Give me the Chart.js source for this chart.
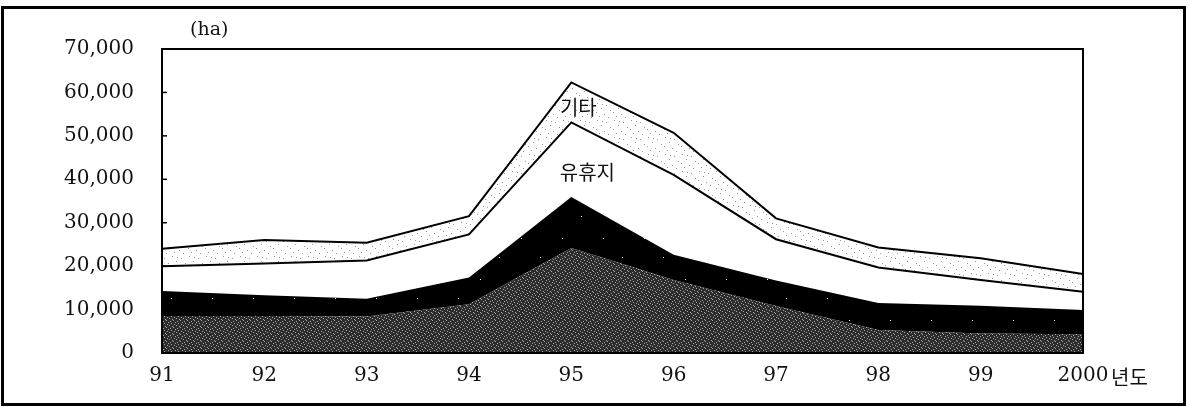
<!DOCTYPE html>
<html>
<head>
<meta charset="utf-8">
<script src="https://cdn.jsdelivr.net/npm/chart.js@4/dist/chart.umd.min.js"></script>
<style>
  html, body { margin: 0; padding: 0; background: #fff; }
  #wrap { position: absolute; left: 0; top: 0; width: 1189px; height: 407px; }
</style>
</head>
<body>
<div id="wrap"><canvas id="c" width="1189" height="407"></canvas></div>
<script>
// ---- data (band thickness per year, ha) ----
const years = ['91', '92', '93', '94', '95', '96', '97', '98', '99', '2000'];
const bottomBand = [8500, 8500, 8400, 11200, 24200, 16800, 10800, 5300, 4500, 4300];
const blackBand  = [5800, 4800, 4100, 6200, 11700, 5800, 5900, 6200, 6400, 5600];
const idleLand   = [5700, 7300, 8800, 9900, 17200, 18400, 9500, 8200, 5900, 4200];  // 유휴지
const otherLand  = [4000, 5400, 4100, 4200, 9200, 9700, 4800, 4600, 5000, 4100];    // 기타
const yTicks = [0, 10000, 20000, 30000, 40000, 50000, 60000, 70000];
const unitLabel = '(ha)';
const xSuffix = '년도';
const bandNames = ['', '', '유휴지', '기타'];

// ---- texture patterns (styling only) ----
function makePattern(bg, dot, size, spots) {
  const cv = document.createElement('canvas');
  cv.width = size; cv.height = size;
  const g = cv.getContext('2d');
  g.fillStyle = bg; g.fillRect(0, 0, size, size);
  g.fillStyle = dot;
  spots.forEach(([x, y]) => g.fillRect(x, y, 1, 1));
  return g.createPattern(cv, 'repeat');
}
const ctx = document.getElementById('c').getContext('2d');
const grayFill = makePattern('#2c2c2c', '#a8a8a8', 7,
  [[0,0],[3,1],[6,2],[1,3],[4,4],[2,6],[5,5]]);
const blackFill = makePattern('#000000', '#ffffff', 41, [[7,11],[29,33]]);
const dotFill = makePattern('#ffffff', '#999999', 17,
  [[2,1],[11,3],[6,6],[15,8],[1,10],[9,12],[13,15],[4,14],[7,2]]);

const framePlugin = {
  id: 'frame',
  afterDraw(chart) {
    const c = chart.ctx;
    const a = chart.chartArea;
    const ys = chart.scales.y, xs = chart.scales.x;
    c.save();
    // plot frame
    c.strokeStyle = '#000'; c.lineWidth = 2;
    c.strokeRect(a.left, a.top, a.right - a.left, a.bottom - a.top);
    // inward ticks on y axis
    c.lineWidth = 1.5;
    yTicks.forEach(v => {
      const py = ys.getPixelForValue(v);
      c.beginPath(); c.moveTo(a.left, py); c.lineTo(a.left + 5, py); c.stroke();
    });
    // outer frame
    c.lineWidth = 3;
    c.strokeRect(2.5, 7.5, 1182, 397);
    // texts
    c.fillStyle = '#111';
    c.font = '19px "DejaVu Serif"';
    c.textAlign = 'left'; c.textBaseline = 'middle';
    c.fillText(unitLabel, 190, 30);
    c.font = '20px "Noto Sans CJK KR"';
    c.fillText(xSuffix, 1111, 377);
    // band labels
    c.textAlign = 'center';
    c.font = '20px "Noto Sans CJK KR"';
    const x95 = xs.getPixelForValue(4);
    c.fillText(bandNames[3], x95 + 7, ys.getPixelForValue(56600));
    c.fillText(bandNames[2], x95 + 16, ys.getPixelForValue(41600));
    c.restore();
  }
};

new Chart(ctx, {
  type: 'line',
  data: {
    labels: years,
    datasets: [
      { data: bottomBand, backgroundColor: grayFill, borderWidth: 0, fill: 'origin' },
      { data: blackBand, backgroundColor: blackFill, borderWidth: 0, fill: '-1' },
      { data: idleLand, backgroundColor: '#ffffff', borderColor: '#000', borderWidth: 2, fill: '-1' },
      { data: otherLand, backgroundColor: dotFill, borderColor: '#000', borderWidth: 2, fill: '-1' }
    ]
  },
  options: {
    responsive: false,
    animation: false,
    devicePixelRatio: 1,
    elements: { line: { tension: 0 }, point: { radius: 0 } },
    layout: { padding: { left: 0, right: 106, top: 49, bottom: 0 } },
    plugins: { legend: { display: false }, tooltip: { enabled: false } },
    scales: {
      x: {
        offset: false,
        grid: { display: false, drawTicks: false },
        border: { display: false },
        afterFit(s) { s.height = 54; },
        ticks: {
          autoSkip: false, maxRotation: 0, padding: 11, color: '#111',
          font: { family: '"DejaVu Serif"', size: 20 }
        }
      },
      y: {
        stacked: true,
        min: 0, max: 70000,
        grid: { display: false, drawTicks: false },
        border: { display: false },
        afterFit(s) { s.width = 162; },
        afterBuildTicks(s) { s.ticks = yTicks.map(v => ({ value: v })); },
        ticks: {
          padding: 28, color: '#111',
          font: { family: '"DejaVu Serif"', size: 20 },
          callback: v => v.toLocaleString('en-US')
        }
      }
    }
  },
  plugins: [framePlugin]
});
</script>
</body>
</html>
